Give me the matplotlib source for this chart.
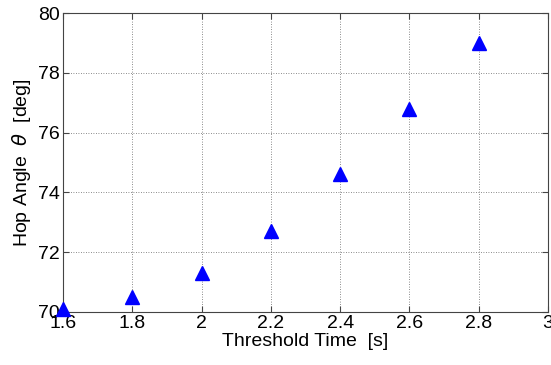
import matplotlib
matplotlib.use("Agg")
import matplotlib.pyplot as plt

threshold_time = [1.6, 1.8, 2.0, 2.2, 2.4, 2.6, 2.8]
hop_angle = [70.1, 70.5, 71.3, 72.7, 74.6, 76.8, 79.0]
xticks = [1.6, 1.8, 2.0, 2.2, 2.4, 2.6, 2.8, 3.0]
xticklabels = ["1.6", "1.8", "2", "2.2", "2.4", "2.6", "2.8", "3"]
yticks = [70, 72, 74, 76, 78, 80]

plt.rcParams['font.family'] = ['Liberation Sans', 'DejaVu Sans']
fig = plt.figure(figsize=(5.51, 3.65), dpi=100)
ax = fig.add_axes([63/551, 1-312/365, (548-63)/551, (312-13)/365])
ax.plot(threshold_time, hop_angle, linestyle='none', marker='^', color='#0000ff',
        markersize=10, clip_on=False, zorder=5)
ax.set_xlim(1.6, 3.0)
ax.set_ylim(70, 80)
ax.set_xticks(xticks)
ax.set_xticklabels(xticklabels)
ax.set_yticks(yticks)
ax.grid(True, linestyle=(0, (1, 2)), color='#666666', linewidth=0.6)
ax.tick_params(direction='in', top=True, right=True, labelsize=14, length=4, pad=2,
               color='#444444')
for s in ax.spines.values():
    s.set_color('#444444')
ax.set_xlabel("Threshold Time  [s]", fontsize=14, labelpad=1)
ax.set_ylabel("Hop Angle  $\\mathit{\\theta}$  [deg]", fontsize=14, labelpad=4)
fig.savefig("out.png", dpi=100)
